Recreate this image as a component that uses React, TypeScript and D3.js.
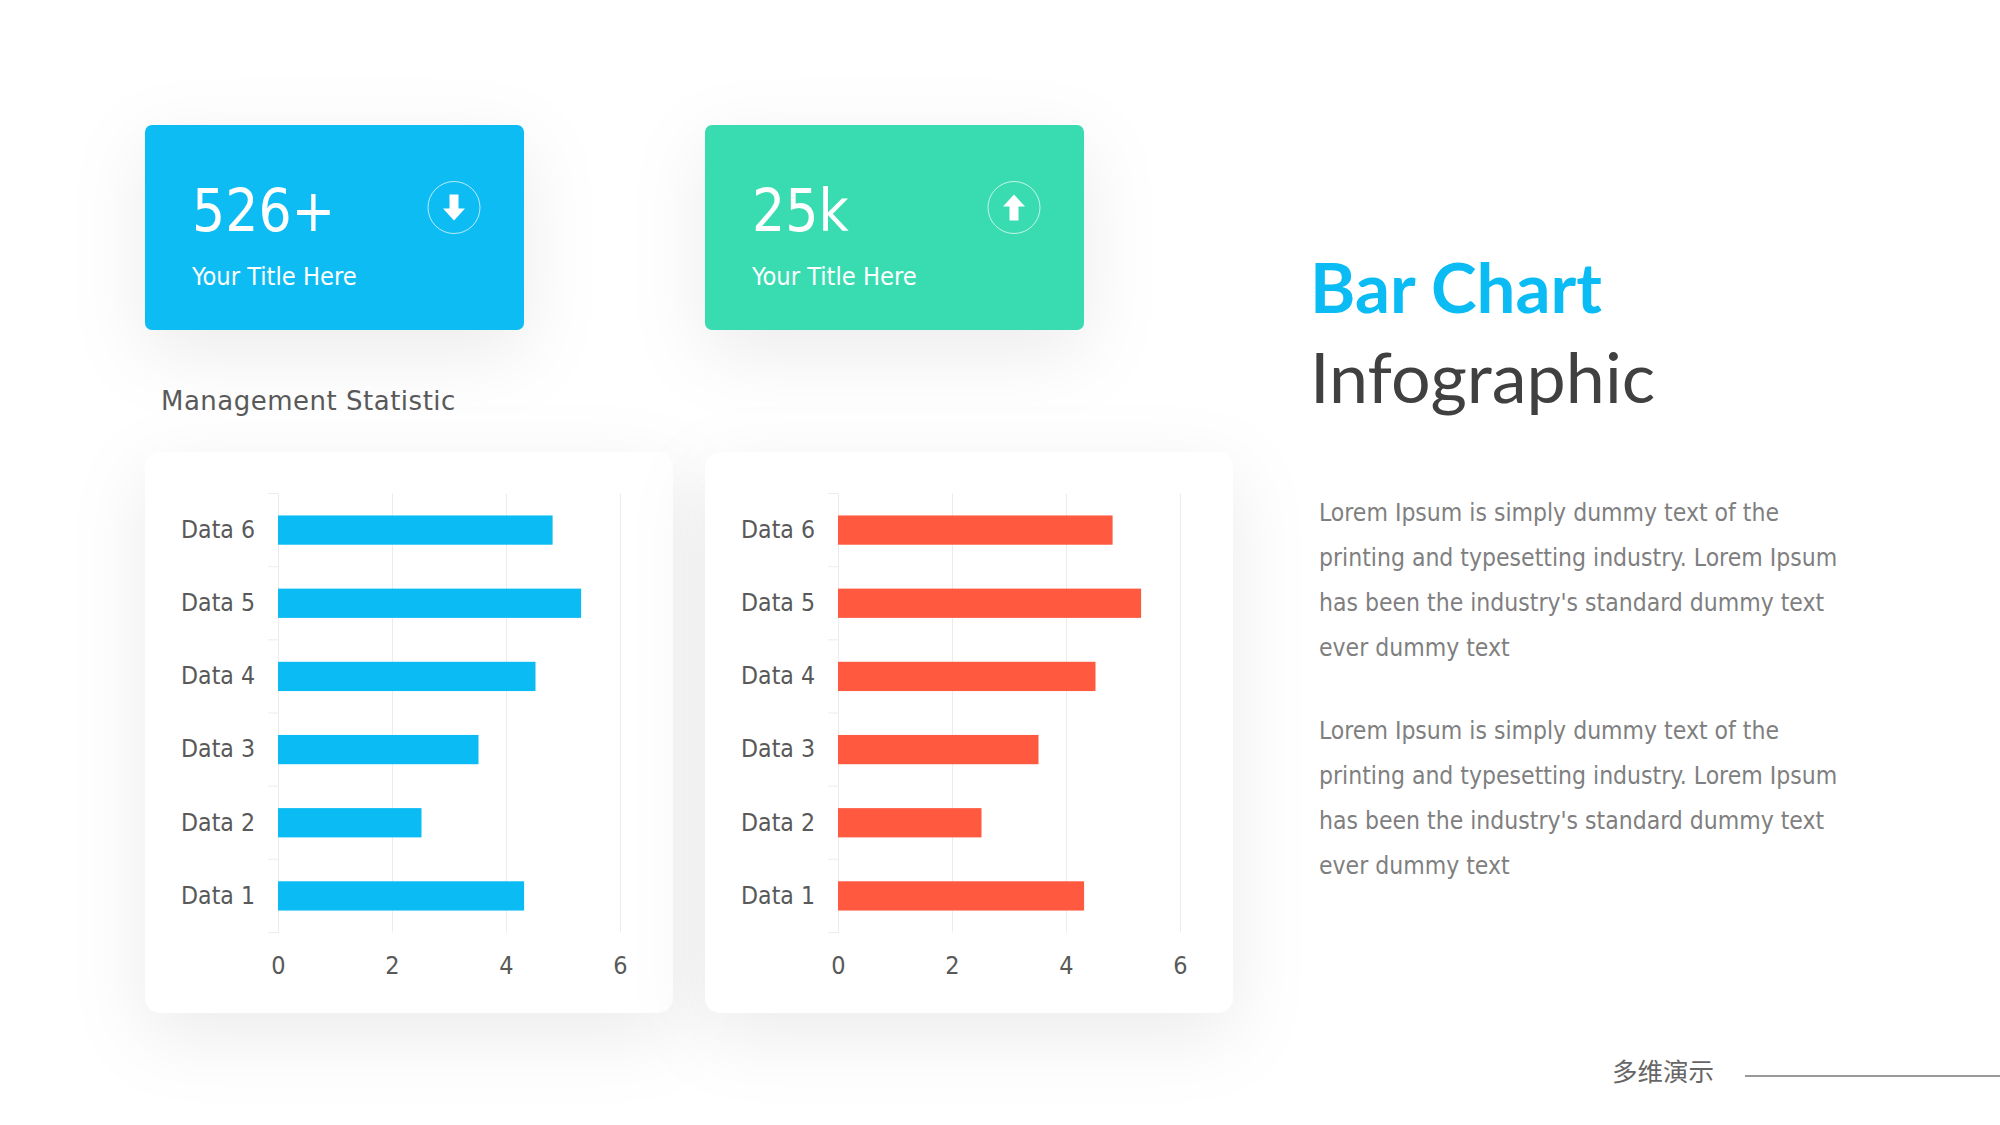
import React, { useEffect, useRef } from 'react';
import * as d3 from 'd3';

const categories = ['Data 1', 'Data 2', 'Data 3', 'Data 4', 'Data 5', 'Data 6'];
const blueValues = [4.3, 2.5, 3.5, 4.5, 5.3, 4.8];
const redValues = [4.3, 2.5, 3.5, 4.5, 5.3, 4.8];
const xTicks = [0, 2, 4, 6];
const bodyLines = [
  'Lorem Ipsum is simply dummy text of the',
  'printing and typesetting industry. Lorem Ipsum',
  "has been the industry's standard dummy text",
  'ever dummy text',
];

const BLUE = '#0abcf3';
const GREEN = '#39dcb0';
const RED = '#ff5a40';
const BODY_FONT = '"DejaVu Sans", sans-serif';
const TITLE_FONT = 'Lato, sans-serif';

const drawChart = (root, left, values, color) => {
  const x = d3.scaleLinear().domain([0, 6]).range([left + 133, left + 475]);
  const y = d3.scaleBand()
    .domain([...categories].reverse())
    .range([493.5, 932.5])
    .paddingInner(0.6)
    .paddingOuter(0.3);

  root.append('rect')
    .attr('x', left).attr('y', 452)
    .attr('width', 528).attr('height', 561)
    .attr('rx', 16)
    .attr('fill', '#fff')
    .attr('filter', 'url(#softShadow)');

  const xAxis = root.append('g')
    .attr('transform', 'translate(0,932.5)')
    .call(d3.axisBottom(x).tickValues(xTicks).tickFormat(d3.format('d')).tickSize(-439).tickPadding(24));
  xAxis.select('.domain').remove();
  xAxis.selectAll('line').attr('stroke', '#ececec');
  xAxis.selectAll('text')
    .attr('font-family', BODY_FONT)
    .attr('font-stretch', 'condensed')
    .attr('font-size', 25)
    .attr('fill', '#595959');

  const yAxis = root.append('g')
    .attr('transform', `translate(${left + 133},0)`)
    .call(d3.axisLeft(y).tickSize(0).tickPadding(23));
  yAxis.select('.domain').attr('stroke', '#ececec');
  yAxis.selectAll('text')
    .attr('font-family', BODY_FONT)
    .attr('font-stretch', 'condensed')
    .attr('font-size', 24.6)
    .attr('fill', '#595959');

  // ticks sit between the categories, not on them
  const step = y.step();
  root.append('g')
    .selectAll('line')
    .data(d3.range(categories.length + 1))
    .enter().append('line')
    .attr('x1', left + 123).attr('x2', left + 133)
    .attr('y1', d => 493.5 + d * step)
    .attr('y2', d => 493.5 + d * step)
    .attr('stroke', '#ececec');

  root.append('g')
    .selectAll('rect')
    .data(categories.map((c, i) => ({ c, v: values[i] })))
    .enter().append('rect')
    .attr('x', x(0))
    .attr('y', d => y(d.c))
    .attr('width', d => x(d.v) - x(0) + 1)
    .attr('height', y.bandwidth())
    .attr('fill', color);
};

const drawCard = (root, left, color, value, arrow) => {
  root.append('rect')
    .attr('x', left).attr('y', 125)
    .attr('width', 379).attr('height', 205)
    .attr('rx', 7)
    .attr('fill', color)
    .attr('filter', 'url(#softShadow)');

  root.append('text')
    .attr('x', left + 47).attr('y', 231)
    .attr('font-family', BODY_FONT)
    .attr('font-stretch', 'condensed')
    .attr('font-size', 58)
    .attr('fill', '#fff')
    .text(value);

  root.append('text')
    .attr('x', left + 47).attr('y', 285)
    .attr('font-family', BODY_FONT)
    .attr('font-stretch', 'condensed')
    .attr('font-size', 25.2)
    .attr('fill', '#fff')
    .text('Your Title Here');

  const badge = root.append('g')
    .attr('transform', `translate(${left + 309},207.5)`);
  badge.append('circle')
    .attr('r', 26)
    .attr('fill', 'none')
    .attr('stroke', '#fff')
    .attr('stroke-opacity', 0.7);
  // arrow is drawn pointing up, flipped for the down card
  badge.append('path')
    .attr('d', 'M0,-13 L11,-1 L4.5,-1 L4.5,13 L-4.5,13 L-4.5,-1 L-11,-1 Z')
    .attr('transform', arrow === 'down' ? 'scale(1,-1)' : null)
    .attr('fill', '#fff');
};

const drawText = (root) => {
  root.append('text')
    .attr('x', 161).attr('y', 410)
    .attr('font-family', BODY_FONT)
    .attr('font-size', 26)
    .attr('letter-spacing', 0.5)
    .attr('fill', '#595959')
    .text('Management Statistic');

  root.append('text')
    .attr('x', 1310).attr('y', 313)
    .attr('font-family', TITLE_FONT)
    .attr('font-weight', 700)
    .attr('font-size', 69)
    .attr('fill', BLUE)
    .text('Bar Chart');

  root.append('text')
    .attr('x', 1310).attr('y', 403)
    .attr('font-family', TITLE_FONT)
    .attr('font-size', 70)
    .attr('fill', '#404040')
    .text('Infographic');

  [521, 739].forEach(top => {
    root.append('g')
      .selectAll('text')
      .data(bodyLines)
      .enter().append('text')
      .attr('x', 1319)
      .attr('y', (d, i) => top + i * 45)
      .attr('font-family', BODY_FONT)
      .attr('font-stretch', 'condensed')
      .attr('font-size', 24.5)
      .attr('fill', '#7f7f7f')
      .text(d => d);
  });

  root.append('text')
    .attr('x', 1612).attr('y', 1081)
    .attr('font-family', '"Noto Sans CJK SC", sans-serif')
    .attr('font-size', 25.5)
    .attr('fill', '#666')
    .text('多维演示');

  root.append('line')
    .attr('x1', 1745).attr('x2', 2000)
    .attr('y1', 1076).attr('y2', 1076)
    .attr('stroke', '#777')
    .attr('stroke-width', 1.5);
};

const App = () => {
  const svgRef = useRef(null);

  useEffect(() => {
    const svg = d3.select(svgRef.current);
    svg.selectAll('*').remove();

    const filter = svg.append('defs').append('filter')
      .attr('id', 'softShadow')
      .attr('x', '-40%').attr('y', '-40%')
      .attr('width', '180%').attr('height', '180%');
    filter.append('feDropShadow')
      .attr('dx', 0).attr('dy', 22)
      .attr('stdDeviation', 38)
      .attr('flood-color', '#000')
      .attr('flood-opacity', 0.08);

    drawCard(svg, 145, BLUE, '526+', 'down');
    drawCard(svg, 705, GREEN, '25k', 'up');
    drawChart(svg, 145, blueValues, BLUE);
    drawChart(svg, 705, redValues, RED);
    drawText(svg);
  }, []);

  return (
    <svg
      ref={svgRef}
      width="2000"
      height="1125"
      style={{ position: 'absolute', left: 0, top: 0, background: '#fff' }}
    />
  );
};

export default App;
